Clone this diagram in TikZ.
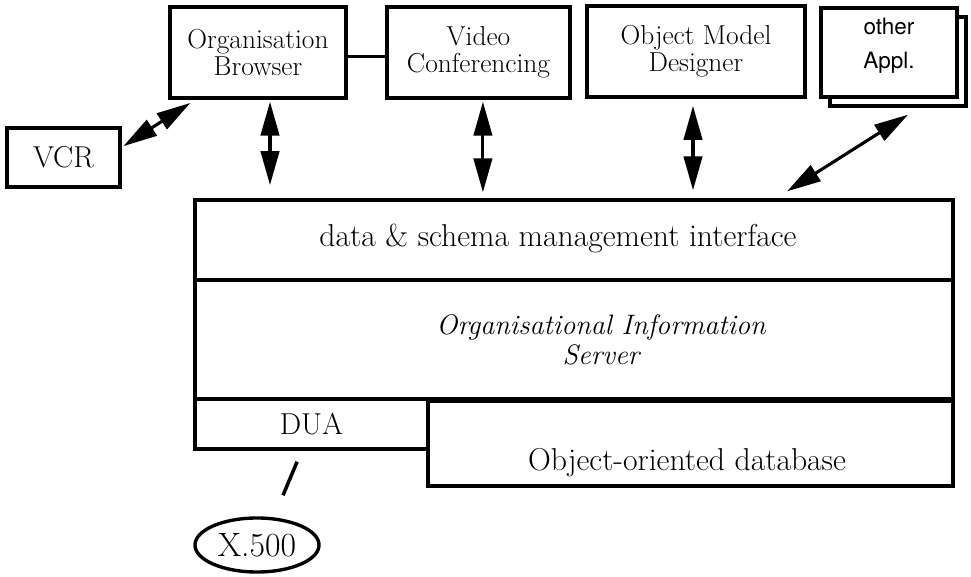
\documentclass[tikz,border=0pt]{standalone}
\usepackage{fontspec}
\newfontfamily\applfont{TeX Gyre Heros}
\usetikzlibrary{arrows.meta,shadows,shapes.geometric}

\begin{document}
\begin{tikzpicture}
    [
        x=0.025cm,y=-0.025cm,
        box/.style={rectangle,draw=black,fill=white,line width=2.4pt,inner sep=0,align=center,font=\fontsize{19.5}{19.5}\selectfont},
        layer/.style={box,font=\fontsize{21.5}{24}\selectfont},
        caption/.style={inner sep=0,align=center,font=\fontsize{22.5}{24}\selectfont},
        link/.style={{Triangle[length=0.85cm,width=0.46cm]}-{Triangle[length=0.85cm,width=0.46cm]},line width=2.2pt,shorten <=0.05cm,shorten >=0.15cm},
        wire/.style={draw=black,line width=2.2pt},
    ]
    \useasboundingbox (0,0) rectangle (971,577);

    \node[box,minimum width=4.4cm,minimum height=2.275cm] (orgbrowser) at (258,52.5) {Organisation\\Browser};
    \node[box,minimum width=4.575cm,minimum height=2.275cm] (video) at (478.5,52.5) {Video\\Conferencing};
    \node[box,minimum width=5.45cm,minimum height=2.275cm] (omd) at (696,51.5) {Object Model\\Designer};
    \node[box,minimum width=3.4cm,minimum height=2.225cm,font=\applfont\fontsize{16}{24}\selectfont,
          copy shadow={shadow xshift=0.225cm,shadow yshift=-0.225cm,draw=black,fill=white,line width=2.4pt}]
          (other) at (889,52.5) {other\\Appl.\rule[-0.45cm]{0pt}{0pt}};
    \node[layer,minimum width=2.825cm,minimum height=1.475cm] (vcr) at (63.5,157.5) {VCR};

    \node[layer,minimum width=18.95cm,minimum height=2cm] (iface) at (574,240) {};
    \node[layer,minimum width=18.95cm,minimum height=2.975cm] (ois) at (574,339.5) {};
    \node[layer,minimum width=5.825cm,minimum height=1.25cm] (dua) at (311.5,424) {DUA};
    \node[layer,minimum width=13.125cm,minimum height=2.125cm] (oodb) at (690.5,443.5) {};
    \node[layer,ellipse,minimum width=3.1cm,minimum height=1.35cm,font=\fontsize{24}{26}\selectfont] (x500) at (257,545) {X.500};

    \node[caption] (ifacetext) at (558,238) {data \& schema management interface};
    \node[caption,font=\itshape\fontsize{20}{21.5}\selectfont] (oistext) at (601,340) {Organisational Information\\Server};
    \node[caption] (oodbtext) at (687,463) {Object-oriented database};

    \draw[wire] ([yshift=-0.1cm]orgbrowser.east) -- ([yshift=-0.1cm]video.west);
    \draw[link] (vcr.10) -- (orgbrowser.217);
    \draw[link,shorten >=0.33cm] ([xshift=0.3cm]orgbrowser.south) -- ([xshift=0.3cm]orgbrowser.south |- iface.north);
    \draw[link] ([xshift=0.11cm]video.south) -- ([xshift=0.11cm]video.south |- iface.north);
    \draw[link,shorten <=0.18cm,shorten >=0.2cm] ([xshift=-0.075cm]omd.south) -- ([xshift=-0.075cm]omd.south |- iface.north);
    \draw[link,shorten <=0,shorten >=0] ([shift={(0.475cm,-0.4cm)}]other.south) -- ([shift={(5.325cm,0.175cm)}]iface.north);
    \draw[wire,line width=2.5pt] ([shift={(-0.36cm,-0.275cm)}]dua.south) -- ([shift={(0.65cm,0.525cm)}]x500.north);
\end{tikzpicture}
\end{document}
